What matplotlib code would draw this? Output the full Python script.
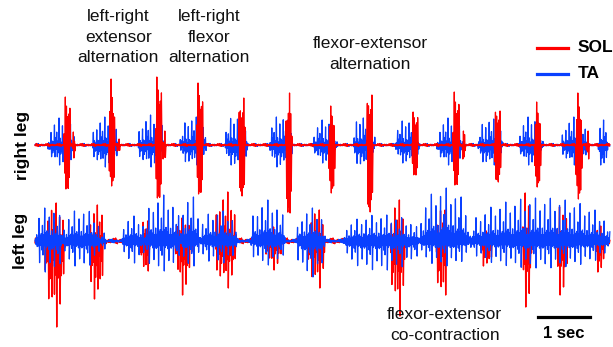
import numpy as np
import matplotlib.pyplot as plt

plt.rcParams['font.family'] = ['Liberation Sans', 'DejaVu Sans']

RED = '#ff0000'
BLUE = '#0a40ff'

# ---- right leg ----
# SOL bursts: centre time (s), peak up / down (a.u.)
r_sol_t = [0.62, 1.48, 2.38, 3.17, 3.98, 4.88, 5.71, 6.44, 7.31, 8.10, 8.90, 9.67, 10.46]
r_sol_up = [48, 66, 68, 62, 47, 52, 39, 50, 33, 53, 34, 43, 52]
r_sol_dn = [44, 41, 53, 49, 51, 68, 48, 67, 30, 40, 37, 42, 54]
r_sol_minor_t = [0.75, 1.60, 2.48, 8.25, 10.63]
r_sol_minor_a = [13, 6, 14, 14, 14]

# TA bursts: onset / offset (s), peak up / down
r_ta_on = [0.25, 1.10, 1.98, 2.79, 3.65, 4.50, 5.35, 6.12, 6.92, 7.73, 8.52, 9.31, 10.13, 10.83]
r_ta_off = [0.77, 1.60, 2.50, 3.31, 4.10, 4.96, 5.81, 6.54, 7.40, 8.23, 9.00, 9.77, 10.62, 11.02]
r_ta_up = [27, 28, 30, 28, 27, 28, 25, 30, 24, 27, 26, 28, 28, 25]
r_ta_dn = [20, 22, 22, 20, 20, 22, 18, 22, 18, 20, 20, 20, 20, 20]

# ---- left leg ----
l_ta_on = [0.00, 0.54, 1.25, 1.67, 2.12, 2.79, 3.17, 4.15, 5.04, 5.92, 7.40, 8.37]
l_ta_off = [0.54, 1.25, 1.37, 2.12, 2.79, 3.17, 3.90, 4.81, 5.58, 7.40, 8.37, 11.06]
l_ta_up = [33, 30, 8, 25, 46, 44, 30, 41, 33, 26, 53, 43]
l_ta_dn = [31, 25, 8, 22, 30, 25, 22, 24, 36, 29, 25, 27]

l_sol_on = [0.19, 1.06, 2.02, 2.69, 3.46, 4.42, 5.25, 6.83, 7.71, 8.56, 9.37, 10.02, 10.77]
l_sol_off = [0.58, 1.31, 2.21, 3.02, 3.88, 4.77, 5.58, 7.12, 7.94, 8.79, 9.56, 10.25, 10.96]
l_sol_up = [38, 36, 20, 23, 49, 14, 31, 41, 31, 10, 48, 34, 15]
l_sol_dn = [86, 58, 30, 54, 47, 29, 47, 75, 54, 25, 66, 54, 31]

LEFT_OFFSET = -96
DT = 0.011
t = np.arange(0, 11.06, DT)

# relative spike heights, repeated along the trace (texture only)
SHAPE = np.array([0.15, 0.35, 1.0, 0.9, 0.25, 0.4, 0.1, 0.3, 0.7, 0.75,
                  0.2, 0.45, 0.15, 0.3, 0.85, 0.6, 0.3, 0.2, 0.5, 0.55])
SPIKY = np.array([0.2, 0.15, 1.0, 0.95, 0.25, 0.2, 0.3, 0.15, 0.2, 0.25,
                  0.7, 0.65, 0.15, 0.2, 0.3, 0.25, 0.15, 0.2, 0.85, 0.8,
                  0.2, 0.15, 0.25, 0.3, 0.5, 0.45])
SOLID = np.array([1.0, 0.95, 0.7, 0.85, 0.5, 0.9, 0.6, 0.8])


def emg(on, off, up, dn, floor, shift, shape=SHAPE, power=0.4):
    k = np.arange(len(t)) + shift
    sign = np.where(k % 2 == 0, 1.0, -1.0)
    mag = shape[k % len(shape)]
    y = sign * floor * SHAPE[(k * 7) % len(SHAPE)]
    for a, b, u, d in zip(on, off, up, dn):
        m = (t >= a) & (t <= b)
        if m.sum() < 2:
            continue
        env = np.sin(np.pi * (t[m] - a) / (b - a)) ** power
        s = sign[m] * mag[m] * env
        if s.max() > 0:
            s = np.where(s > 0, s / s.max() * u, s)
        if s.min() < 0:
            s = np.where(s < 0, s / -s.min() * d, s)
        y[m] = s
    return y


w = 0.06
r_sol = emg([c - w for c in r_sol_t], [c + w for c in r_sol_t],
            r_sol_up, r_sol_dn, 1.5, 3, shape=SOLID, power=0.3)
r_minor = emg([c - 0.03 for c in r_sol_minor_t], [c + 0.03 for c in r_sol_minor_t],
              r_sol_minor_a, r_sol_minor_a, 0.0, 1)
r_sol = np.where(np.abs(r_minor) > np.abs(r_sol), r_minor, r_sol)
r_ta = emg(r_ta_on, r_ta_off, r_ta_up, r_ta_dn, 1.5, 0)
l_sol = emg(l_sol_on, l_sol_off, l_sol_up, l_sol_dn, 3.0, 5)
l_ta = emg(l_ta_on, l_ta_off, l_ta_up, l_ta_dn, 2.0, 11, shape=SPIKY, power=0.3)

fig = plt.figure(figsize=(6.13, 3.47), dpi=100)
ax = fig.add_axes([0, 0, 1, 1])
ax.set_xlim(-35 / 52, 578 / 52)
ax.set_ylim(-202, 145)
ax.axis('off')

ax.plot(t, r_ta, color=BLUE, lw=0.9, zorder=2)
ax.plot(t, r_sol, color=RED, lw=0.9, zorder=3)
ax.plot(t, l_sol + LEFT_OFFSET, color=RED, lw=1.0, zorder=2)
ax.plot(t, l_ta + LEFT_OFFSET, color=BLUE, lw=0.9, zorder=3)

# legend
ax.plot([9.65, 10.25], [97, 97], color=RED, lw=2.3)
ax.plot([9.65, 10.25], [71, 71], color=BLUE, lw=2.3)
ax.text(10.43, 97, 'SOL', fontsize=12.5, fontweight='bold', va='center')
ax.text(10.43, 71, 'TA', fontsize=12.5, fontweight='bold', va='center')

# scale bar
ax.plot([9.67, 10.67], [-172, -172], color='black', lw=2.3)
ax.text(10.17, -188, '1 sec', fontsize=12, fontweight='bold', ha='center', va='center')

txt = dict(fontsize=12.5, ha='center', va='center', linespacing=1.5, color='#111111')
ax.text(1.60, 108, 'left-right\nextensor\nalternation', **txt)
ax.text(3.35, 108, 'left-right\nflexor\nalternation', **txt)
ax.text(6.44, 91, 'flexor-extensor\nalternation', **txt)
ax.text(7.88, -180, 'flexor-extensor\nco-contraction', **txt)

ax.text(-0.25, 0, 'right leg', fontsize=12.5, fontweight='bold', rotation=90,
        ha='center', va='center')
ax.text(-0.27, LEFT_OFFSET, 'left leg', fontsize=12.5, fontweight='bold', rotation=90,
        ha='center', va='center')

fig.savefig('out.png', dpi=100)
